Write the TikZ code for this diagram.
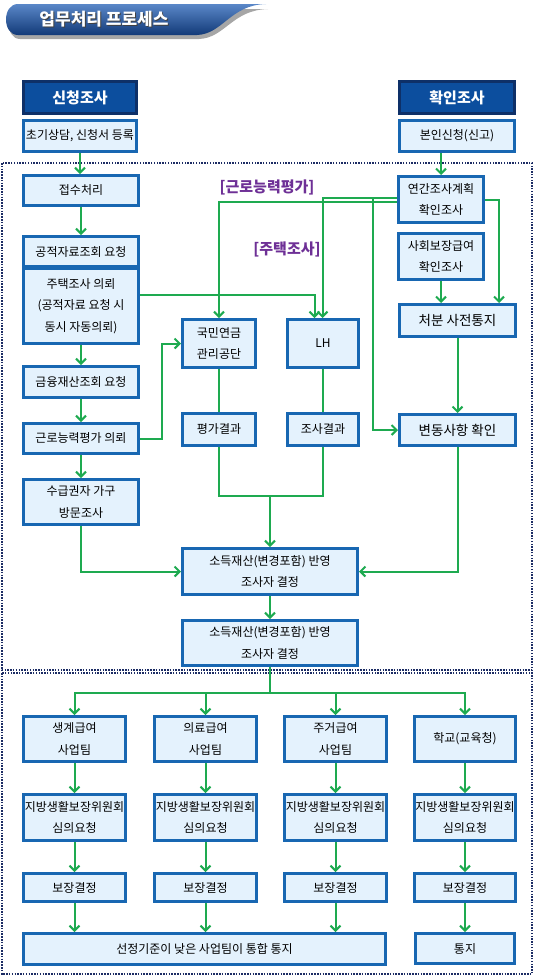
\documentclass[tikz,border=0pt]{standalone}
\usepackage{fontspec}
\newfontfamily\kr{Noto Sans CJK KR}
\usetikzlibrary{arrows.meta}
\definecolor{gr}{RGB}{30,170,80}
\definecolor{bb}{RGB}{24,103,178}
\definecolor{bf}{RGB}{228,242,253}
\definecolor{db}{RGB}{12,78,158}
\definecolor{dbb}{RGB}{14,48,104}
\definecolor{pp}{RGB}{110,48,150}
\definecolor{dotc}{RGB}{28,44,100}
\newcommand{\bx}[7][]{%
  \node[box,#1,minimum width={#5pt-#3pt-2.6pt},minimum height={#6pt-#4pt-2.6pt}] (#2) at ({(#3+#5)/2},{(#4+#6)/2}) {#7};}
\tikzset{
  box/.style={draw=bb, line width=2.6pt, fill=bf, inner sep=0.5pt, align=center, text=black,
    font=\kr\fontsize{12pt}{21.5pt}\selectfont},
  hd/.style={draw=dbb, fill=db, text=white, font=\kr\bfseries\fontsize{15pt}{17pt}\selectfont},
  big/.style={font=\kr\fontsize{13.5pt}{21pt}\selectfont},
  ln/.style={draw=gr, line width=2pt},
  ar/.style={draw=gr, line width=2pt, -{Straight Barb[length=5pt,width=10pt]}},
  lbl/.style={text=pp, font=\kr\bfseries\fontsize{15pt}{17pt}\selectfont, inner sep=0pt},
  dotbox/.style={draw=dotc, line width=1.5pt, dash pattern=on 1.5pt off 1.3pt}
}
\begin{document}
\begin{tikzpicture}[x=1pt,y=-1pt]
\useasboundingbox (0,0) rectangle (536,977);
% banner
\fill[black!35] (20,9) -- (268,9) .. controls (232,10) and (225,38) .. (199,39) -- (20,39) .. controls (5,39) and (5,9) .. (20,9) -- cycle;
\shade[top color={rgb,255:red,90;green,135;blue,200}, bottom color={rgb,255:red,18;green,58;blue,120}]
  (18,4) -- (266,4) .. controls (230,5) and (223,34) .. (197,35) -- (18,35) .. controls (2,35) and (2,4) .. (18,4) -- cycle;
\node[text=black!75, font=\kr\bfseries\fontsize{17pt}{19pt}\selectfont] (ttlsh) at (105,20) {업무처리 프로세스};
\node[text=white, font=\kr\bfseries\fontsize{17pt}{19pt}\selectfont] (ttl) at (104,19) {업무처리 프로세스};
% dotted frames
\draw[dotbox] (2,163) rectangle (532,670);
\draw[dotbox] (2,673) rectangle (532,974);
% top boxes
\bx[hd]{sin}{22}{80}{138}{115}{신청조사}
\bx{cho}{22}{119}{138}{153}{초기상담, 신청서 등록}
\bx[hd]{hwak}{398}{80}{516}{115}{확인조사}
\bx{bon}{398}{119}{516}{153}{본인신청(신고)}
\bx{jeop}{22}{174}{140}{207}{접수처리}
\bx{gong}{22}{235}{140}{268}{공적자료조회 요청}
\bx{jut}{22}{267}{140}{345}{주택조사 의뢰\\(공적자료 요청 시\\동시 자동의뢰)}
\bx{geum}{22}{365}{140}{399}{금융재산조회 요청}
\bx{geun}{22}{422}{140}{455}{근로능력평가 의뢰}
\bx{sug}{22}{478}{140}{526}{수급권자 가구\\방문조사}
\bx{np}{181}{318}{257}{369}{국민연금\\관리공단}
\bx{lh}{286}{318}{360}{369}{LH}
\bx{pg}{181}{412}{257}{447}{평가결과}
\bx{js}{286}{412}{360}{447}{조사결과}
\bx{yg}{397}{175}{485}{224}{연간조사계획\\확인조사}
\bx{sh}{397}{232}{485}{281}{사회보장급여\\확인조사}
\bx[big]{cb}{398}{303}{517}{338}{처분 사전통지}
\bx[big]{bd}{398}{413}{517}{447}{변동사항 확인}
\bx{so1}{181}{547}{359}{596}{소득재산(변경포함) 반영\\조사자 결정}
\bx{so2}{181}{619}{359}{667}{소득재산(변경포함) 반영\\조사자 결정}
% bottom columns
\bx{ca}{22}{715}{127}{763}{생계급여\\사업팀}
\bx{da}{153}{715}{258}{763}{의료급여\\사업팀}
\bx{ea}{283}{715}{388}{763}{주거급여\\사업팀}
\bx{fa}{413}{715}{517}{763}{학교(교육청)}
\bx{cb2}{22}{793}{127}{842}{지방생활보장위원회\\심의요청}
\bx{db2}{153}{793}{258}{842}{지방생활보장위원회\\심의요청}
\bx{eb2}{283}{793}{388}{842}{지방생활보장위원회\\심의요청}
\bx{fb2}{413}{793}{517}{842}{지방생활보장위원회\\심의요청}
\bx{cc}{22}{872}{127}{903}{보장결정}
\bx{dc}{153}{872}{258}{903}{보장결정}
\bx{ec}{283}{872}{388}{903}{보장결정}
\bx{fc}{413}{872}{517}{903}{보장결정}
\bx{tong}{22}{932}{387}{966}{선정기준이 낮은 사업팀이 통합 통지}
\bx{tj}{414}{932}{516}{965}{통지}
% labels
\node[lbl] (l1) at (267,187) {[근로능력평가]};
\node[lbl] (l2) at (287,249) {[주택조사]};
% left chain
\draw[ar] (cho.south) -- (cho.south |- jeop.north);
\draw[ar] (jeop.south) -- (jeop.south |- gong.north);
\draw[ar] (jut.south) -- (jut.south |- geum.north);
\draw[ar] (geum.south) -- (geum.south |- geun.north);
\draw[ar] (geun.south) -- (geun.south |- sug.north);
% right chain
\draw[ar] (yg.north |- bon.south) -- (yg.north);
\draw[ar] (sh.south) -- (sh.south |- cb.north);
\draw[ar] (yg.east) -| ([xshift=41.5pt]cb.north);
\draw[ar] (cb.south) -- (cb.south |- bd.north);
% from annual plan to the left
\draw[ar] ([yshift=-2.5pt]yg.west) -| (np.north);
\draw[ar] ([yshift=1.5pt]yg.west) -| ([xshift=-0.5pt]lh.north);
\coordinate (j1) at (373,198);
\draw[ar] (j1) |- (bd.west);
\draw[ar] ([yshift=11pt]jut.east) -| ([xshift=-8.5pt]lh.north);
\draw[ar] (geun.east) -- ++(22,0) |- (np.west);
% results
\draw[ln] (np.south) -- (np.south |- pg.north);
\draw[ln] (lh.south) -- (lh.south |- js.north);
\coordinate (m1) at (270,496);
\draw[ln] (pg.south) |- (m1) -| (js.south);
\draw[ar] (m1) -- (m1 |- so1.north);
\draw[ar] (sug.south) |- (so1.west);
\draw[ar] (bd.south) |- (so1.east);
\draw[ar] (so1.south) -- (so1.south |- so2.north);
% distribution
\coordinate (m2) at (270,693);
\draw[ln] (so2.south) -- (m2);
\draw[ar] (m2) -| (ca.north);
\draw[ar] (m2) -| (da.north);
\draw[ar] (m2) -| (ea.north);
\draw[ar] (m2) -| (fa.north);
\foreach \a/\b in {ca/cb2,da/db2,ea/eb2,fa/fb2,cb2/cc,db2/dc,eb2/ec,fb2/fc}
  \draw[ar] (\a.south) -- (\a.south |- \b.north);
\foreach \a in {cc,dc,ec}
  \draw[ar] (\a.south) -- (\a.south |- tong.north);
\draw[ar] (fc.south) -- (fc.south |- tj.north);
\end{tikzpicture}
\end{document}
